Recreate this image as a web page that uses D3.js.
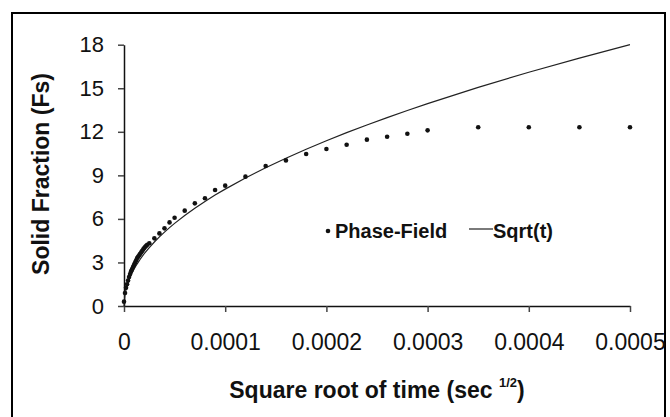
<!DOCTYPE html>
<html>
<head>
<meta charset="utf-8">
<script src="https://cdn.jsdelivr.net/npm/d3@7"></script>
<style>
  body { margin: 0; background: white; }
  text { font-family: "Liberation Sans", Arial, sans-serif; fill: #111; }
</style>
</head>
<body>
<div id="vis"></div>
<script>
// datos
const phaseX = [0, 0.000001, 0.000002, 0.000003, 0.000004, 0.000005, 0.000006, 0.000007, 0.000008, 0.000009,
  0.00001, 0.000011, 0.000012, 0.000013, 0.000014, 0.000015, 0.000016, 0.000017, 0.000018, 0.000019,
  0.00002, 0.000021, 0.000022, 0.000023, 0.000025, 0.00003, 0.000035, 0.00004, 0.000045, 0.00005,
  0.00006, 0.00007, 0.00008, 0.00009, 0.0001, 0.00012, 0.00014, 0.00016, 0.00018, 0.0002,
  0.00022, 0.00024, 0.00026, 0.00028, 0.0003, 0.00035, 0.0004, 0.00045, 0.0005];
const phaseY = [0.3, 0.9, 1.25, 1.5, 1.75, 2.0, 2.2, 2.4, 2.55, 2.7,
  2.85, 3.0, 3.15, 3.3, 3.4, 3.5, 3.6, 3.7, 3.8, 3.9,
  4.0, 4.08, 4.15, 4.22, 4.32, 4.66, 5.0, 5.35, 5.76, 6.08,
  6.57, 7.07, 7.42, 7.99, 8.29, 8.91, 9.64, 10.03, 10.47, 10.81,
  11.11, 11.46, 11.66, 11.87, 12.1, 12.31, 12.31, 12.31, 12.31];

const sqrtX = [0, 0.000001, 0.000002, 0.000003, 0.000004, 0.000005, 0.000006, 0.000008, 0.00001, 0.000012,
  0.000014, 0.000016, 0.000018, 0.00002, 0.000025, 0.00003, 0.000035, 0.00004, 0.000045, 0.00005,
  0.00006, 0.00007, 0.00008, 0.00009, 0.0001, 0.00012, 0.00014, 0.00016, 0.00018, 0.0002,
  0.00022, 0.00024, 0.00026, 0.00028, 0.0003, 0.00035, 0.0004, 0.00045, 0.0005];
const sqrtY = [0, 0.8, 1.14, 1.39, 1.61, 1.8, 1.97, 2.28, 2.55, 2.79,
  3.01, 3.22, 3.42, 3.6, 4.02, 4.41, 4.76, 5.09, 5.4, 5.69,
  6.24, 6.73, 7.2, 7.64, 8.05, 8.82, 9.52, 10.18, 10.8, 11.38,
  11.94, 12.47, 12.98, 13.47, 13.94, 15.06, 16.1, 17.08, 18.0];

const xTicks = [0, 0.0001, 0.0002, 0.0003, 0.0004, 0.0005];
const xTickLabels = ["0", "0.0001", "0.0002", "0.0003", "0.0004", "0.0005"];
const yTicks = [0, 3, 6, 9, 12, 15, 18];
const legendLabels = ["Phase-Field", "Sqrt(t)"];

const WIDTH = 670, HEIGHT = 417;
const plot = { left: 124, right: 630, top: 44.7, bottom: 306 };

const SVG = d3.select("#vis").append("svg")
  .attr("width", WIDTH).attr("height", HEIGHT);

// marco exterior
SVG.append("rect")
  .attr("x", 12).attr("y", 13)
  .attr("width", 653).attr("height", 420)
  .attr("fill", "none").attr("stroke", "black").attr("stroke-width", 2);

const escalaX = d3.scaleLinear().domain([0, 0.0005]).range([plot.left, plot.right]);
const escalaY = d3.scaleLinear().domain([0, 18]).range([plot.bottom, plot.top]);

// eje X
const ejeX = SVG.append("g")
  .attr("transform", `translate(0 ${plot.bottom})`)
  .call(d3.axisBottom(escalaX).tickValues(xTicks).tickFormat((d, i) => xTickLabels[i])
    .tickSizeInner(6).tickSizeOuter(0).tickPadding(22));
ejeX.select(".domain").attr("stroke", "#111").attr("stroke-width", 1.5);
ejeX.selectAll(".tick line").attr("stroke", "#444").attr("stroke-width", 1.5);
ejeX.selectAll("text").attr("font-size", 23).attr("fill", "#222").attr("font-family", "Liberation Sans, Arial");

// eje Y
const ejeY = SVG.append("g")
  .attr("transform", `translate(${plot.left} 0)`)
  .call(d3.axisLeft(escalaY).tickValues(yTicks)
    .tickSizeInner(6).tickSizeOuter(0).tickPadding(14));
ejeY.select(".domain").attr("stroke", "#111").attr("stroke-width", 1.5);
ejeY.selectAll(".tick line").attr("stroke", "#444").attr("stroke-width", 1.5);
ejeY.selectAll("text").attr("font-size", 22).attr("fill", "#222").attr("font-family", "Liberation Sans, Arial");

// curva sqrt(t)
const linea = d3.line().x((d) => escalaX(d[0])).y((d) => escalaY(d[1]));
SVG.append("path")
  .datum(sqrtX.map((x, i) => [x, sqrtY[i]]))
  .attr("d", linea)
  .attr("fill", "none").attr("stroke", "#222").attr("stroke-width", 1.2);

// puntos phase-field
SVG.append("g").selectAll("circle")
  .data(phaseX.map((x, i) => [x, phaseY[i]]))
  .join("circle")
  .attr("cx", (d) => escalaX(d[0]))
  .attr("cy", (d) => escalaY(d[1]))
  .attr("r", 2.3)
  .attr("fill", "#111");

// leyenda
const leyenda = SVG.append("g").attr("font-size", 20).attr("font-weight", "bold");
leyenda.append("circle").attr("cx", 328).attr("cy", 231).attr("r", 2.3).attr("fill", "#111");
leyenda.append("text").attr("x", 335).attr("y", 238).text(legendLabels[0]);
leyenda.append("line").attr("x1", 469).attr("x2", 493).attr("y1", 229).attr("y2", 229)
  .attr("stroke", "#222").attr("stroke-width", 1.2);
leyenda.append("text").attr("x", 493).attr("y", 238).text(legendLabels[1]);

// titulos
const tituloX = SVG.append("text")
  .attr("x", 377).attr("y", 398)
  .attr("text-anchor", "middle")
  .attr("font-size", 23).attr("font-weight", "bold");
tituloX.append("tspan").text("Square root of time (sec ");
tituloX.append("tspan").attr("font-size", 13).attr("dy", -11).text("1/2");
tituloX.append("tspan").attr("dy", 11).text(")");

SVG.append("text")
  .attr("transform", "translate(49 174) rotate(-90)")
  .attr("text-anchor", "middle")
  .attr("font-size", 23).attr("font-weight", "bold")
  .text("Solid Fraction (Fs)");
</script>
</body>
</html>
